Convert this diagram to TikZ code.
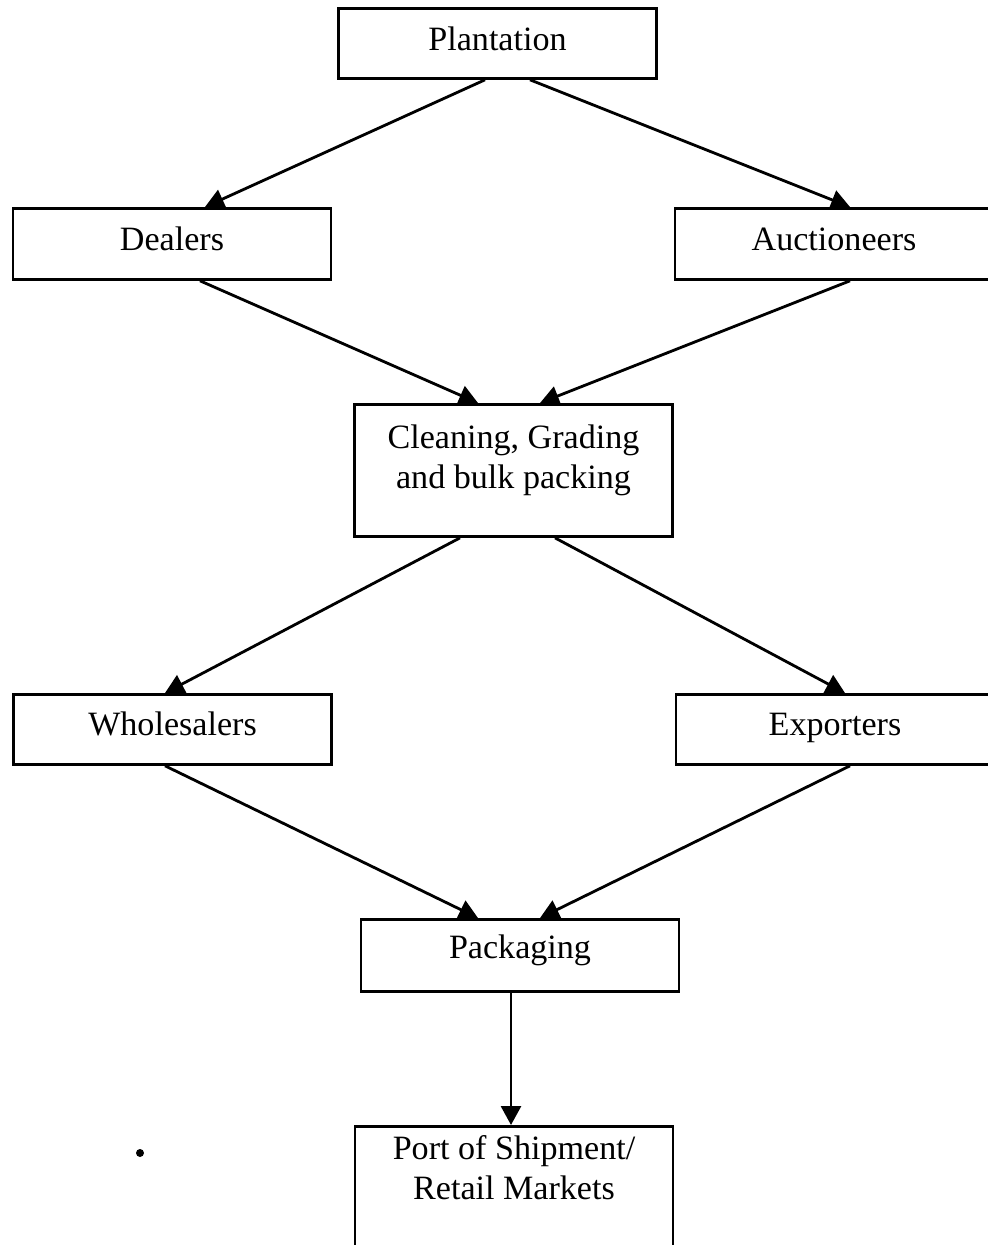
\documentclass[tikz,border=0pt]{standalone}
\usepackage{fontspec}
\setmainfont{Liberation Serif}
\usepackage{tikz}
\usetikzlibrary{positioning, arrows.meta, calc}
\tikzset{every picture/.append style={thick}}
\tikzset{
  stage/.style={draw, minimum width=3.18cm, inner xsep=0pt, inner ysep=0pt,
    align=center, anchor=north, font=\fontsize{9.7}{11.4}\selectfont},
  oneline/.style 2 args={text height=#1, text depth=#2},
  flow/.style={-{Triangle[length=1.9mm,width=2mm]}},
}
\newcommand{\topstrut}[1]{\rule{0pt}{#1}}
\newcommand{\botstrut}[1]{\rule[-#1]{0pt}{0pt}}

\begin{document}
\begin{tikzpicture}[thick]
    % Page frame (boxes on the right and bottom run off the page)
    \clip (0,0) rectangle (9.88,-12.45);
    \fill[white] (0,0) rectangle (9.88,-12.45);

    % Source
    \node[stage, oneline={4.2mm}{2.8mm}] (plant) at (4.975,-0.07) {Plantation};

    % First buyers
    \node[stage, oneline={4.2mm}{2.9mm}] (deal) at (1.72,-2.07) {Dealers};
    \node[stage, oneline={4.2mm}{2.9mm}] (auct) at (8.34,-2.07) {Auctioneers};

    % Processing
    \node[stage] (clean) at (5.135,-4.03)
        {\topstrut{4.4mm}Cleaning, Grading\\and bulk packing\botstrut{4.8mm}};

    % Traders
    \node[stage, oneline={4.1mm}{2.9mm}] (whole) at (1.725,-6.93) {Wholesalers};
    \node[stage, oneline={4.1mm}{2.9mm}] (export) at (8.35,-6.93) {Exporters};

    % Packaging and outlet
    \node[stage, oneline={3.9mm}{3.3mm}] (pack) at (5.2,-9.18) {Packaging};
    \node[stage] (port) at (5.14,-11.25)
        {\topstrut{3.3mm}Port of Shipment/\\Retail Markets\botstrut{6mm}};

    % Connectors
    \draw[flow] ([xshift=-1.25mm]plant.south) -- ([xshift=3.3mm]deal.north);
    \draw[flow] ([xshift=3.25mm]plant.south) -- ([xshift=1.6mm]auct.north);
    \draw[flow] ([xshift=2.8mm]deal.south) -- ([xshift=-3.55mm]clean.north);
    \draw[flow] ([xshift=1.6mm]auct.south) -- ([xshift=2.65mm]clean.north);
    \draw[flow] ([xshift=-5.35mm]clean.south) -- ([xshift=-0.75mm]whole.north);
    \draw[flow] ([xshift=4.15mm]clean.south) -- ([xshift=1mm]export.north);
    \draw[flow] ([xshift=-0.75mm]whole.south) -- ([xshift=-4.2mm]pack.north);
    \draw[flow] ([xshift=1.5mm]export.south) -- ([xshift=2mm]pack.north);
    \draw[flow] ([xshift=-0.9mm]pack.south) -- ([xshift=-0.9mm]pack.south |- port.north);

    % Stray dot
    \fill (1.4,-11.53) circle (0.4mm);
\end{tikzpicture}
\end{document}
